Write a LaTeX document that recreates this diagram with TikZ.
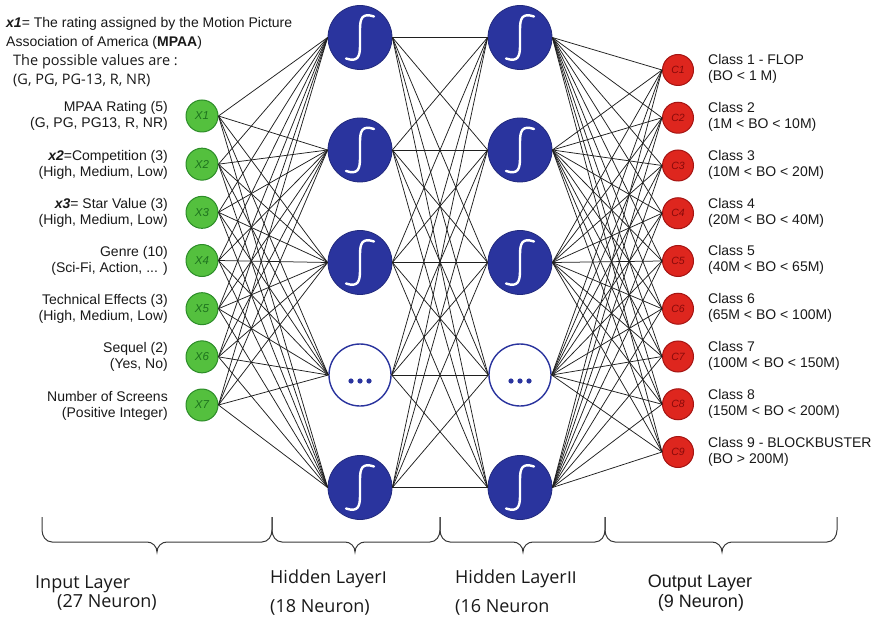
\documentclass[tikz,border=0pt]{standalone}
\usepackage{fontspec}
\setmainfont{Liberation Sans}
\newfontfamily\osans{Open Sans}
\newfontfamily\cjk{Noto Sans CJK SC}
\definecolor{inpfill}{RGB}{84,192,62}
\definecolor{inpdraw}{RGB}{44,140,40}
\definecolor{inptext}{RGB}{30,115,30}
\definecolor{hidfill}{RGB}{42,52,158}
\definecolor{outfill}{RGB}{222,38,30}
\definecolor{outdraw}{RGB}{165,20,18}
\definecolor{outtext}{RGB}{135,10,10}
\definecolor{txt}{RGB}{25,25,25}
\begin{document}
\begin{tikzpicture}[x=1pt,y=-1pt,
  innode/.style={circle,draw=inpdraw,fill=inpfill,line width=1pt,minimum size=32pt,inner sep=0pt,font=\fontsize{11.5}{11.5}\selectfont\itshape,text=inptext},
  hidnode/.style={circle,draw=hidfill!80!black,fill=hidfill,line width=0.8pt,minimum size=64pt,inner sep=0pt},
  dotnode/.style={circle,draw=hidfill,line width=1.4pt,fill=white,minimum size=62pt,inner sep=0pt},
  outnode/.style={circle,draw=outdraw,fill=outfill,line width=1pt,minimum size=31pt,inner sep=0pt,font=\fontsize{10.5}{10.5}\selectfont\itshape,text=outtext},
  conn/.style={draw=black!88,line width=0.75pt},
  lbl/.style={font=\fontsize{14}{16}\selectfont,text=txt,inner sep=0pt,anchor=base east},
  olbl/.style={font=\fontsize{14}{16}\selectfont,text=txt,inner sep=0pt,anchor=base west},
  tlbl/.style={font=\fontsize{14}{16}\selectfont,text=txt,inner sep=0pt,anchor=base west},
  tolbl/.style={font=\osans\fontsize{14.5}{16}\selectfont,text=txt,inner sep=0pt,anchor=base west},
  blbl/.style={font=\osans\fontsize{18}{20}\selectfont,text=txt,inner sep=0pt,anchor=base west},
  bolbl/.style={font=\fontsize{18}{20}\selectfont,text=txt,inner sep=0pt,anchor=base},
  bracestyle/.style={draw=black!78,line width=1pt},
  sig/.pic={\draw[white,line width=2.4pt,line cap=round] (-14,21) .. controls (-2,25) and (0,19) .. (0,8) -- (0,-8) .. controls (0,-19) and (2,-25) .. (14,-21);},
  dots/.pic={\fill[hidfill] (-9,6) circle (2.6); \fill[hidfill] (0,6) circle (2.6); \fill[hidfill] (9,6) circle (2.6);}
]
\useasboundingbox (0,0) rectangle (877,617);

% top explanatory text
\node[tlbl] (t1) at (6,28) {\textbf{\textit{x1}}= The rating assigned by the Motion Picture};
\node[tlbl] (t2) at (6,47) {Association of America (\textbf{MPAA})};
\node[tolbl] (t3) at (13,66) {The possible values are :};
\node[tolbl] (t4) at (13,85) {(G, PG, PG-13, R, NR)};

% input nodes
\foreach \i in {1,...,7} {
  \node[innode] (x\i) at (202,{116+48.17*(\i-1)}) {X\i};
}
% hidden layers
\foreach \j/\yy in {1/37.5,2/150,3/262.5,5/487.5} {
  \node[hidnode] (h\j) at (360,\yy) {};
  \node[hidnode] (g\j) at (520,\yy) {};
  \pic at (h\j) {sig};
  \pic at (g\j) {sig};
}
\node[dotnode] (h4) at (360,375) {};
\node[dotnode] (g4) at (520,375) {};
\pic at (h4) {dots};
\pic at (g4) {dots};
% output nodes
\foreach \k in {1,...,9} {
  \node[outnode] (c\k) at (678,{70+47.75*(\k-1)}) {C\k};
}

% connectors
\foreach \i in {1,...,7} \foreach \j in {1,...,5} \draw[conn] (x\i.east) -- (h\j.west);
\foreach \i in {1,...,5} \foreach \j in {1,...,5} \draw[conn] (h\i.east) -- (g\j.west);
\foreach \i in {1,...,5} \foreach \k in {1,...,9} \draw[conn] (g\i.east) -- (c\k.west);

% input labels
\node[lbl] (la1) at (168,112) {MPAA Rating (5)};
\node[lbl] (lb1) at (168,128) {(G, PG, PG13, R, NR)};
\node[lbl] (la2) at (168,160.2) {\textbf{\textit{x2}}=Competition (3)};
\node[lbl] (lb2) at (168,176.2) {(High, Medium, Low)};
\node[lbl] (la3) at (168,208.3) {\textbf{\textit{x3}}= Star Value (3)};
\node[lbl] (lb3) at (168,224.3) {(High, Medium, Low)};
\node[lbl] (la4) at (168,256.5) {Genre (10)};
\node[lbl] (lb4) at (168,272.5) {(Sci-Fi, Action, ... )};
\node[lbl] (la5) at (168,304.7) {Technical Effects (3)};
\node[lbl] (lb5) at (168,320.7) {(High, Medium, Low)};
\node[lbl] (la6) at (168,352.8) {Sequel (2)};
\node[lbl] (lb6) at (168,368.8) {(Yes, No)};
\node[lbl] (la7) at (168,401) {Number of Screens};
\node[lbl] (lb7) at (168,417) {(Positive Integer)};

% output labels
\foreach \k/\ta/\tb in {1/Class 1 - FLOP/(BO < 1 M),
  2/Class 2/(1M < BO < 10M),
  3/Class 3/(10M < BO < 20M),
  4/Class 4/(20M < BO < 40M),
  5/Class 5/(40M < BO < 65M),
  6/Class 6/(65M < BO < 100M),
  7/Class 7/(100M < BO < 150M),
  8/Class 8/(150M < BO < 200M),
  9/Class 9 - BLOCKBUSTER/(BO > 200M)} {
  \node[olbl] (oa\k) at (708,{70+47.75*(\k-1)-5}) {\ta};
  \node[olbl] (ob\k) at (708,{70+47.75*(\k-1)+11}) {\tb};
}

% braces
\foreach \a/\b/\t in {42/272/157, 272/440/355, 440/605/523, 605/837/722} {
  \draw[bracestyle] (\a,517) -- (\a,530) to[out=-90,in=180] ({\a+10},542) -- ({\t-10},542)
    to[out=0,in=90] (\t,552) to[out=90,in=180] ({\t+10},542) -- ({\b-10},542)
    to[out=0,in=-90] (\b,530) -- (\b,517);
}

% layer labels
\node[blbl] (bl1) at (35,588) {Input Layer};
\node[blbl] (bl2) at (57,607) {(27 Neuron)};
\node[blbl] (bl3) at (270,583) {Hidden Layer\kern-5.5pt{\cjk\fontsize{16}{18}\selectfont Ⅰ}};
\node[blbl] (bl4) at (270,612) {(18 Neuron)};
\node[blbl] (bl5) at (455,583) {Hidden Layer\kern-3pt{\cjk\fontsize{16}{18}\selectfont Ⅱ}};
\node[blbl] (bl6) at (455,612) {(16 Neuron};
\node[bolbl] (bl7) at (700,587) {Output Layer};
\node[bolbl] (bl8) at (701,607) {(9 Neuron)};
\end{tikzpicture}
\end{document}
